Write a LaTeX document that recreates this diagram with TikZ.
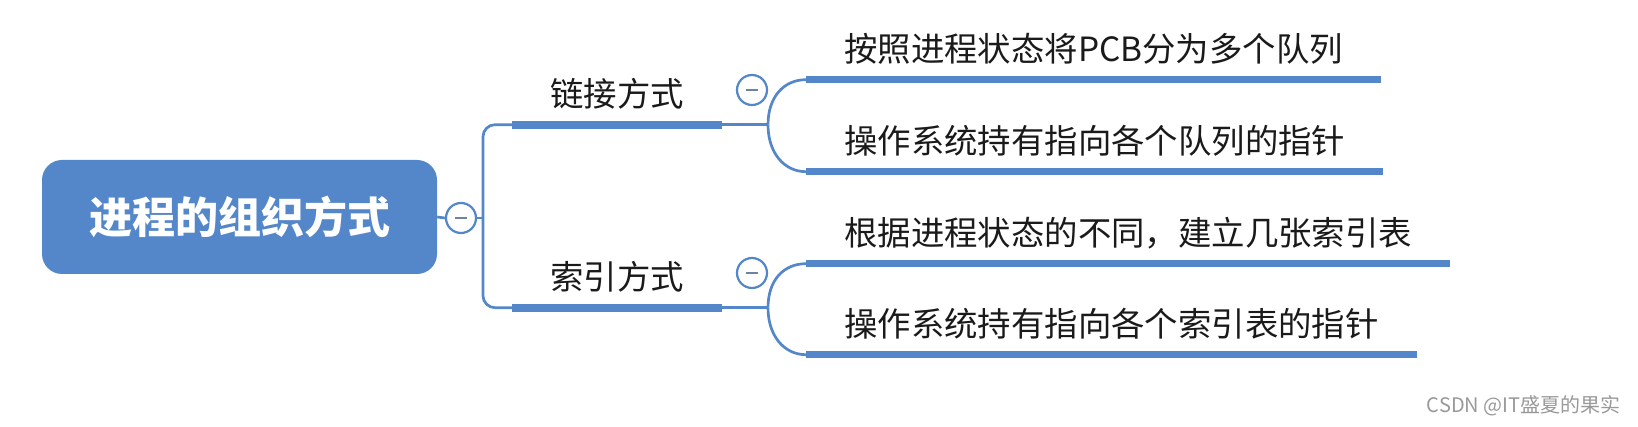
\documentclass[tikz,border=0pt]{standalone}
\usepackage{fontspec}
\setmainfont{Noto Sans CJK SC}
\usepackage{xcolor}
\usetikzlibrary{positioning,calc}
\definecolor{mapblue}{RGB}{84,135,201}
\definecolor{mapink}{RGB}{26,26,26}

\begin{document}
\begin{tikzpicture}[
    x=1pt, y=-1pt,
    rootbox/.style={fill=mapblue, rounded corners=20pt, minimum width=395pt, minimum height=114pt, text=white, font=\fontsize{43}{50}\selectfont\bfseries},
    topic/.style={anchor=west, inner xsep=38pt, inner ysep=14pt, text height=29pt, text depth=4pt, text=mapink, font=\fontsize{33.4}{40}\selectfont},
    fold/.style={circle, draw=mapblue, line width=2.2pt, fill=white, minimum size=30pt, inner sep=0pt,
        path picture={\draw[mapblue!45!gray, line width=2.6pt] ([xshift=-6pt]path picture bounding box.center) -- ([xshift=6pt]path picture bounding box.center);}},
    link/.style={draw=mapblue, line width=2.7pt},
    bar/.style={draw=mapblue, line width=8pt},
    subbar/.style={draw=mapblue, line width=6.5pt}
]
    \useasboundingbox (0,0) rectangle (1638,427);
    % root
    \node[rootbox] (root) at (239.5,217) {进程的组织方式};
    \node[fold] (fold0) at (461,218) {};
    \coordinate (spine) at (483,218);
    % first level
    \node[topic] (chain) at (512,94) {链接方式};
    \node[topic] (index) at (512,277) {索引方式};
    \node[fold] (fold1) at (752,90) {};
    \node[fold] (fold2) at (752,273) {};
    \coordinate (jchain) at ($(chain.south east)+(46,0)$);
    \coordinate (jindex) at ($(index.south east)+(46,0)$);
    % second level
    \node[topic] (queue) at (806,49) {按照进程状态将PCB分为多个队列};
    \node[topic] (qptr) at (806,141) {操作系统持有指向各个队列的指针};
    \node[topic] (table) at (806,233) {根据进程状态的不同，建立几张索引表};
    \node[topic] (tptr) at (806,324) {操作系统持有指向各个索引表的指针};
    % connectors
    \draw[link] (root.east) -- (fold0.west);
    \draw[link] (fold0.east) -- (spine);
    \draw[link, rounded corners=12pt] (spine) |- (chain.south west);
    \draw[link, rounded corners=12pt] (spine) |- (index.south west);
    \draw[bar] (chain.south west) -- (chain.south east);
    \draw[bar] (index.south west) -- (index.south east);
    \draw[link] (chain.south east) -- (jchain);
    \draw[link] (index.south east) -- (jindex);
    \draw[link] (jchain) .. controls +(0,-28) and +(-22,0) .. (queue.south west);
    \draw[link] (jchain) .. controls +(0,28) and +(-22,0) .. (qptr.south west);
    \draw[link] (jindex) .. controls +(0,-28) and +(-22,0) .. (table.south west);
    \draw[link] (jindex) .. controls +(0,28) and +(-22,0) .. (tptr.south west);
    \draw[subbar] (queue.south west) -- (queue.south east);
    \draw[subbar] (qptr.south west) -- (qptr.south east);
    \draw[subbar] (table.south west) -- (table.south east);
    \draw[subbar] (tptr.south west) -- (tptr.south east);
    % watermark
    \node[anchor=east, text=gray!80, font=\fontsize{20}{24}\selectfont] (mark) at (1624,406) {CSDN @IT盛夏的果实};
\end{tikzpicture}
\end{document}
